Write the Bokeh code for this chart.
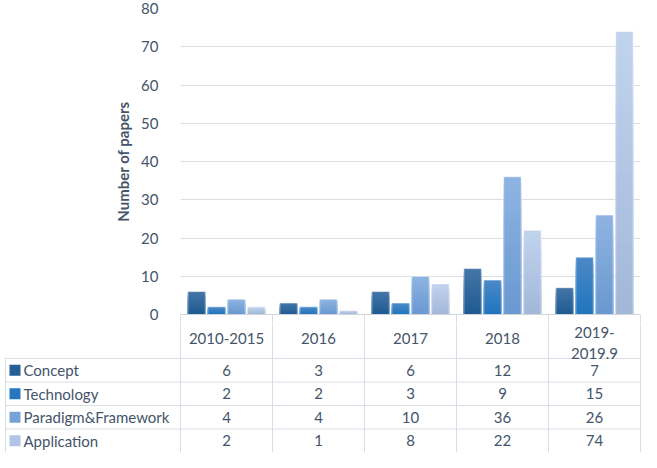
from bokeh.plotting import figure
from bokeh.layouts import column
from bokeh.models import Range1d, FixedTicker, ColumnDataSource
from bokeh.core.properties import value
from bokeh.embed import file_html
from bokeh.resources import INLINE

# ---- data ----
categories = ["2010-2015", "2016", "2017", "2018", "2019-2019.9"]
category_labels = ["2010-2015", "2016", "2017", "2018", "2019-\n2019.9"]
series_names = ["Concept", "Technology", "Paradigm&Framework", "Application"]
concept = [6, 3, 6, 12, 7]
technology = [2, 2, 3, 9, 15]
paradigm = [4, 4, 10, 36, 26]
application = [2, 1, 8, 22, 74]
y_ticks = [0, 10, 20, 30, 40, 50, 60, 70, 80]

series_values = [concept, technology, paradigm, application]
# (top colour, bottom colour) of each series' gradient
series_colors = [("#4676A8", "#1D5A91"), ("#4C89C8", "#1F75BE"),
                 ("#8FB4E2", "#6898D0"), ("#C2D3ED", "#A2B7D9")]
legend_colors = ["#255F96", "#2778C0", "#76A2D8", "#B2C5E6"]

FONT = "Lato"
TEXT = "#44546A"
LINE = "#D9DEE6"
FS = 15

W = 641
LEFT = 180
RIGHT = 1
FRAME_W = W - LEFT - RIGHT
HEADER_H = 44
STUB = 10                      # part of the header drawn under the chart
TOP_H = 8 + 306 + STUB
TAB_H = 452 - TOP_H
LH = 1.15

offsets = [-0.325, -0.108, 0.108, 0.325]
bar_w = 0.19
n = len(categories)
centers = [i + 0.5 for i in range(n)]


def hex2rgb(h):
    h = h.lstrip("#")
    return tuple(int(h[i:i + 2], 16) for i in (0, 2, 4))


def mix(c1, c2, f):
    a, b = hex2rgb(c1), hex2rgb(c2)
    return "#%02x%02x%02x" % tuple(int(round(a[i] * f + b[i] * (1 - f))) for i in range(3))


p = figure(x_range=Range1d(0, n), y_range=Range1d(0, 80), width=W, height=TOP_H,
           output_backend="svg", toolbar_location=None,
           min_border_left=LEFT, min_border_right=RIGHT, min_border_top=8,
           min_border_bottom=STUB)
p.frame_align = False
p.outline_line_color = None
p.xgrid.visible = False
p.ygrid.grid_line_color = "#DADDE2"
p.ygrid.grid_line_width = 1
p.yaxis.ticker = FixedTicker(ticks=y_ticks)
p.yaxis.axis_line_color = None
p.yaxis.major_tick_line_color = None
p.yaxis.minor_tick_line_color = None
p.yaxis.major_label_standoff = 16
p.yaxis.major_label_text_font = FONT
p.yaxis.major_label_text_font_size = f"{FS}px"
p.yaxis.major_label_text_color = TEXT
p.yaxis.axis_label = "Number of papers"
p.yaxis.axis_label_text_font = FONT
p.yaxis.axis_label_text_font_size = "15px"
p.yaxis.axis_label_text_font_style = "bold"
p.yaxis.axis_label_text_color = TEXT
p.yaxis.axis_label_standoff = 6

# x axis: horizontal line at 0 and the top of the table's column borders
xa = p.xaxis[0]
xa.ticker = FixedTicker(ticks=list(range(n + 1)))
xa.major_tick_line_color = LINE
xa.major_tick_out = STUB
xa.major_tick_in = 0
xa.minor_tick_line_color = None
xa.axis_line_color = "#D0D4DA"
xa.major_label_standoff = 0
xa.major_label_text_font_size = "0px"
xa.major_label_text_alpha = 0

N = 24
for vals, (ctop, cbot), off in zip(series_values, series_colors, offsets):
    xs, tops, cols = [], [], []
    for c, v in zip(centers, vals):
        for k in range(N):
            frac = (N - k) / N
            xs.append(c + off)
            tops.append(v * frac)
            cols.append(mix(ctop, cbot, (N - k - 0.5) / N))
    src = ColumnDataSource(dict(x=xs, top=tops, color=cols))
    p.vbar(x="x", top="top", bottom=0, width=bar_w,
           fill_color="color", line_color=None, source=src)
    osrc = ColumnDataSource(dict(x=[c + off for c in centers], top=vals))
    p.vbar(x="x", top="top", bottom=0, width=bar_w,
           fill_color=None, line_color="white", line_alpha=0.55, line_width=1,
           source=osrc)

# ---- data table ----
cat_px = FRAME_W / n
L = LEFT / cat_px
R = RIGHT / cat_px


def ux(px):
    return (px - LEFT) / cat_px


t = figure(x_range=Range1d(-L, n + R), y_range=Range1d(0, TAB_H),
           width=W, height=TAB_H, output_backend="svg", toolbar_location=None,
           x_axis_location=None, y_axis_location=None,
           min_border_left=0, min_border_right=0, min_border_top=0, min_border_bottom=0)
t.frame_align = False
t.outline_line_color = None
t.grid.visible = False

rows_top = TAB_H - (HEADER_H - STUB)
row_h = rows_top / len(series_names)
x_left = ux(5)

# verticals
t.segment(x0=list(range(n + 1)), y0=[0] * (n + 1), x1=list(range(n + 1)),
          y1=[TAB_H] * (n + 1), line_color=LINE, line_width=1)
t.segment(x0=[x_left], y0=[0], x1=[x_left], y1=[rows_top], line_color=LINE, line_width=1)
# horizontals
hy = [rows_top - i * row_h for i in range(len(series_names))]
t.segment(x0=[x_left] * len(hy), y0=hy, x1=[n] * len(hy), y1=hy, line_color=LINE, line_width=1)

# header labels (offset below the 0 line, in px)
head_y = []
for lab in category_labels:
    nl = lab.count("\n") + 1
    half = nl * FS * LH / 2
    off_px = max(24.0, STUB + half + 0.5)
    head_y.append(TAB_H - (off_px - STUB))
t.text(x=centers, y=head_y, text=category_labels,
       text_align="center", text_baseline="middle", text_font=value(FONT),
       text_font_size=f"{FS}px", text_color=TEXT, text_line_height=LH)

for r, (name, vals, lc) in enumerate(zip(series_names, series_values, legend_colors)):
    yc = rows_top - (r + 0.5) * row_h
    t.scatter(x=[ux(14.5)], y=[yc], marker="square", size=11, fill_color=lc, line_color=None)
    t.text(x=[ux(23)], y=[yc], text=[name], text_align="left", text_baseline="middle",
           text_font=value(FONT), text_font_size=f"{FS}px", text_color=TEXT)
    t.text(x=centers, y=[yc] * n, text=[str(v) for v in vals],
           text_align="center", text_baseline="middle", text_font=value(FONT),
           text_font_size=f"{FS}px", text_color=TEXT)

layout = column(p, t, spacing=0)
open("out.html", "w").write(file_html(layout, INLINE))
